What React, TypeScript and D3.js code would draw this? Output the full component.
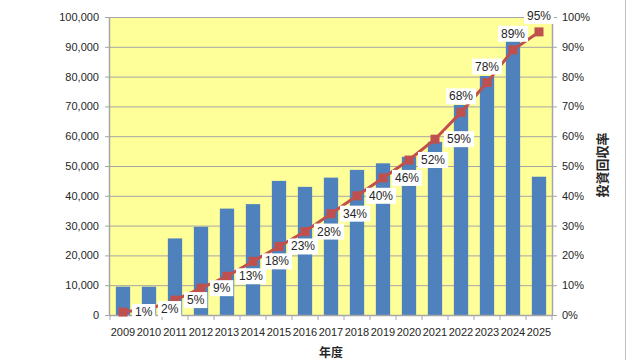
import React, { useRef, useEffect } from 'react';
import * as d3 from 'd3';

const years = ['2009','2010','2011','2012','2013','2014','2015','2016','2017','2018','2019','2020','2021','2022','2023','2024','2025'];
const investment = [9500, 9500, 25700, 29600, 35700, 37200, 45000, 43000, 46100, 48700, 50900, 53100, 58100, 70500, 80200, 92000, 46400];
const recoveryRate = [1, 2, 5, 9, 13, 18, 23, 28, 34, 40, 46, 52, 59, 68, 78, 89, 95];
const leftTicks = [0, 10000, 20000, 30000, 40000, 50000, 60000, 70000, 80000, 90000, 100000];
const rightTicks = [0, 10, 20, 30, 40, 50, 60, 70, 80, 90, 100];
const xTitle = '年度';
const yRightTitle = '投資回収率';

const W = 640, H = 360;
const L = 110, R = 552, T = 17, B = 315;
const FONT = "'Liberation Sans', Arial, sans-serif";
const CJK = "'Noto Sans CJK JP', 'Noto Sans CJK SC', sans-serif";

export default function App() {
  const ref = useRef<SVGSVGElement>(null);
  useEffect(() => {
    const svg = d3.select(ref.current);
    svg.selectAll('*').remove();

    const x = d3.scaleBand<string>().domain(years).range([L, R]).paddingInner(0.45).paddingOuter(0.225);
    const step = x.step();
    const yL = d3.scaleLinear().domain([0, 100000]).range([B, T]);
    const yR = d3.scaleLinear().domain([0, 100]).range([B, T]);

    svg.append('rect').attr('x', 0).attr('y', 0).attr('width', W).attr('height', H).attr('fill', '#fff');
    svg.append('rect').attr('x', L).attr('y', T).attr('width', R - L).attr('height', B - T).attr('fill', '#FFFF99');

    // gridlines
    svg.append('g').selectAll('line').data(leftTicks).join('line')
      .attr('x1', L).attr('x2', R).attr('y1', d => yL(d) + 0.5).attr('y2', d => yL(d) + 0.5)
      .attr('stroke', '#A6A6A6').attr('stroke-width', 1);

    // bars
    svg.append('g').selectAll('rect').data(investment).join('rect')
      .attr('x', (d, i) => x(years[i])!)
      .attr('width', x.bandwidth())
      .attr('y', d => yL(d))
      .attr('height', d => B - yL(d))
      .attr('fill', '#4F81BD');

    // axes lines
    const axisColor = '#A6A6A6';
    svg.append('line').attr('x1', L - 0.5).attr('x2', L - 0.5).attr('y1', T).attr('y2', B + 1).attr('stroke', axisColor).attr('stroke-width', 1.5);
    svg.append('line').attr('x1', R + 0.5).attr('x2', R + 0.5).attr('y1', T).attr('y2', B + 1).attr('stroke', axisColor).attr('stroke-width', 1.5);
    svg.append('line').attr('x1', L).attr('x2', R).attr('y1', B + 0.5).attr('y2', B + 0.5).attr('stroke', axisColor).attr('stroke-width', 1.5);

    // left ticks & labels
    const gl = svg.append('g');
    gl.selectAll('line').data(leftTicks).join('line')
      .attr('x1', L - 5).attr('x2', L).attr('y1', d => yL(d) + 0.5).attr('y2', d => yL(d) + 0.5)
      .attr('stroke', axisColor);
    gl.selectAll('text').data(leftTicks).join('text')
      .attr('x', 99).attr('y', d => yL(d) + 4)
      .attr('text-anchor', 'end').attr('font-family', FONT).attr('font-size', 11).attr('fill', '#262626')
      .text(d => d3.format(',')(d));

    // right ticks & labels
    const gr = svg.append('g');
    gr.selectAll('line').data(rightTicks).join('line')
      .attr('x1', R).attr('x2', R + 5).attr('y1', d => yR(d) + 0.5).attr('y2', d => yR(d) + 0.5)
      .attr('stroke', axisColor);
    gr.selectAll('text').data(rightTicks).join('text')
      .attr('x', 562).attr('y', d => yR(d) + 4)
      .attr('text-anchor', 'start').attr('font-family', FONT).attr('font-size', 11).attr('fill', '#262626')
      .text(d => d + '%');

    // bottom ticks & labels
    const gb = svg.append('g');
    const bounds = d3.range(years.length + 1).map(i => L + i * step);
    gb.selectAll('line').data(bounds).join('line')
      .attr('x1', d => d).attr('x2', d => d).attr('y1', B).attr('y2', B + 5)
      .attr('stroke', axisColor);
    gb.selectAll('text').data(years).join('text')
      .attr('x', d => x(d)! + x.bandwidth() / 2).attr('y', 336)
      .attr('text-anchor', 'middle').attr('font-family', FONT).attr('font-size', 11).attr('fill', '#262626')
      .text(d => d);

    // line
    const cx = (i: number) => x(years[i])! + x.bandwidth() / 2;
    const line = d3.line<number>().x((d, i) => cx(i)).y(d => yR(d));
    svg.append('path').datum(recoveryRate).attr('d', line).attr('fill', 'none')
      .attr('stroke', '#C0504D').attr('stroke-width', 3);
    svg.append('g').selectAll('rect').data(recoveryRate).join('rect')
      .attr('x', (d, i) => cx(i) - 4.5).attr('y', d => yR(d) - 4.5)
      .attr('width', 9).attr('height', 9).attr('fill', '#C0504D');

    // data labels
    const gLab = svg.append('g');
    recoveryRate.forEach((v, i) => {
      const above = i >= 13;
      const g = gLab.append('g');
      const t = g.append('text')
        .attr('font-family', FONT).attr('font-size', 12).attr('fill', '#262626')
        .attr('dominant-baseline', 'central')
        .text(v + '%');
      const tw = (t.node() as SVGTextElement).getComputedTextLength();
      let tx: number, ty: number;
      if (above) {
        tx = cx(i) - tw / 2;
        ty = yR(v) - 16;
      } else {
        tx = cx(i) + 12;
        ty = yR(v);
      }
      t.attr('x', tx).attr('y', ty);
      g.insert('rect', 'text').attr('x', tx - 3).attr('y', ty - 8).attr('width', tw + 6).attr('height', 16).attr('fill', '#fff');
    });

    // titles
    svg.append('text').attr('x', 331).attr('y', 357).attr('text-anchor', 'middle')
      .attr('font-family', CJK).attr('font-size', 12).attr('font-weight', 'bold').attr('fill', '#262626')
      .text(xTitle);
    svg.append('text').attr('transform', 'translate(607,165) rotate(-90)').attr('text-anchor', 'middle')
      .attr('font-family', CJK).attr('font-size', 13).attr('font-weight', 'bold').attr('fill', '#262626')
      .text(yRightTitle);

    // right frame border
    svg.append('line').attr('x1', 625.5).attr('x2', 625.5).attr('y1', 0).attr('y2', H).attr('stroke', '#BFBFBF');
  }, []);

  return (
    <svg ref={ref} width={W} height={H} style={{ position: 'absolute', left: 0, top: 0, display: 'block' }} />
  );
}
